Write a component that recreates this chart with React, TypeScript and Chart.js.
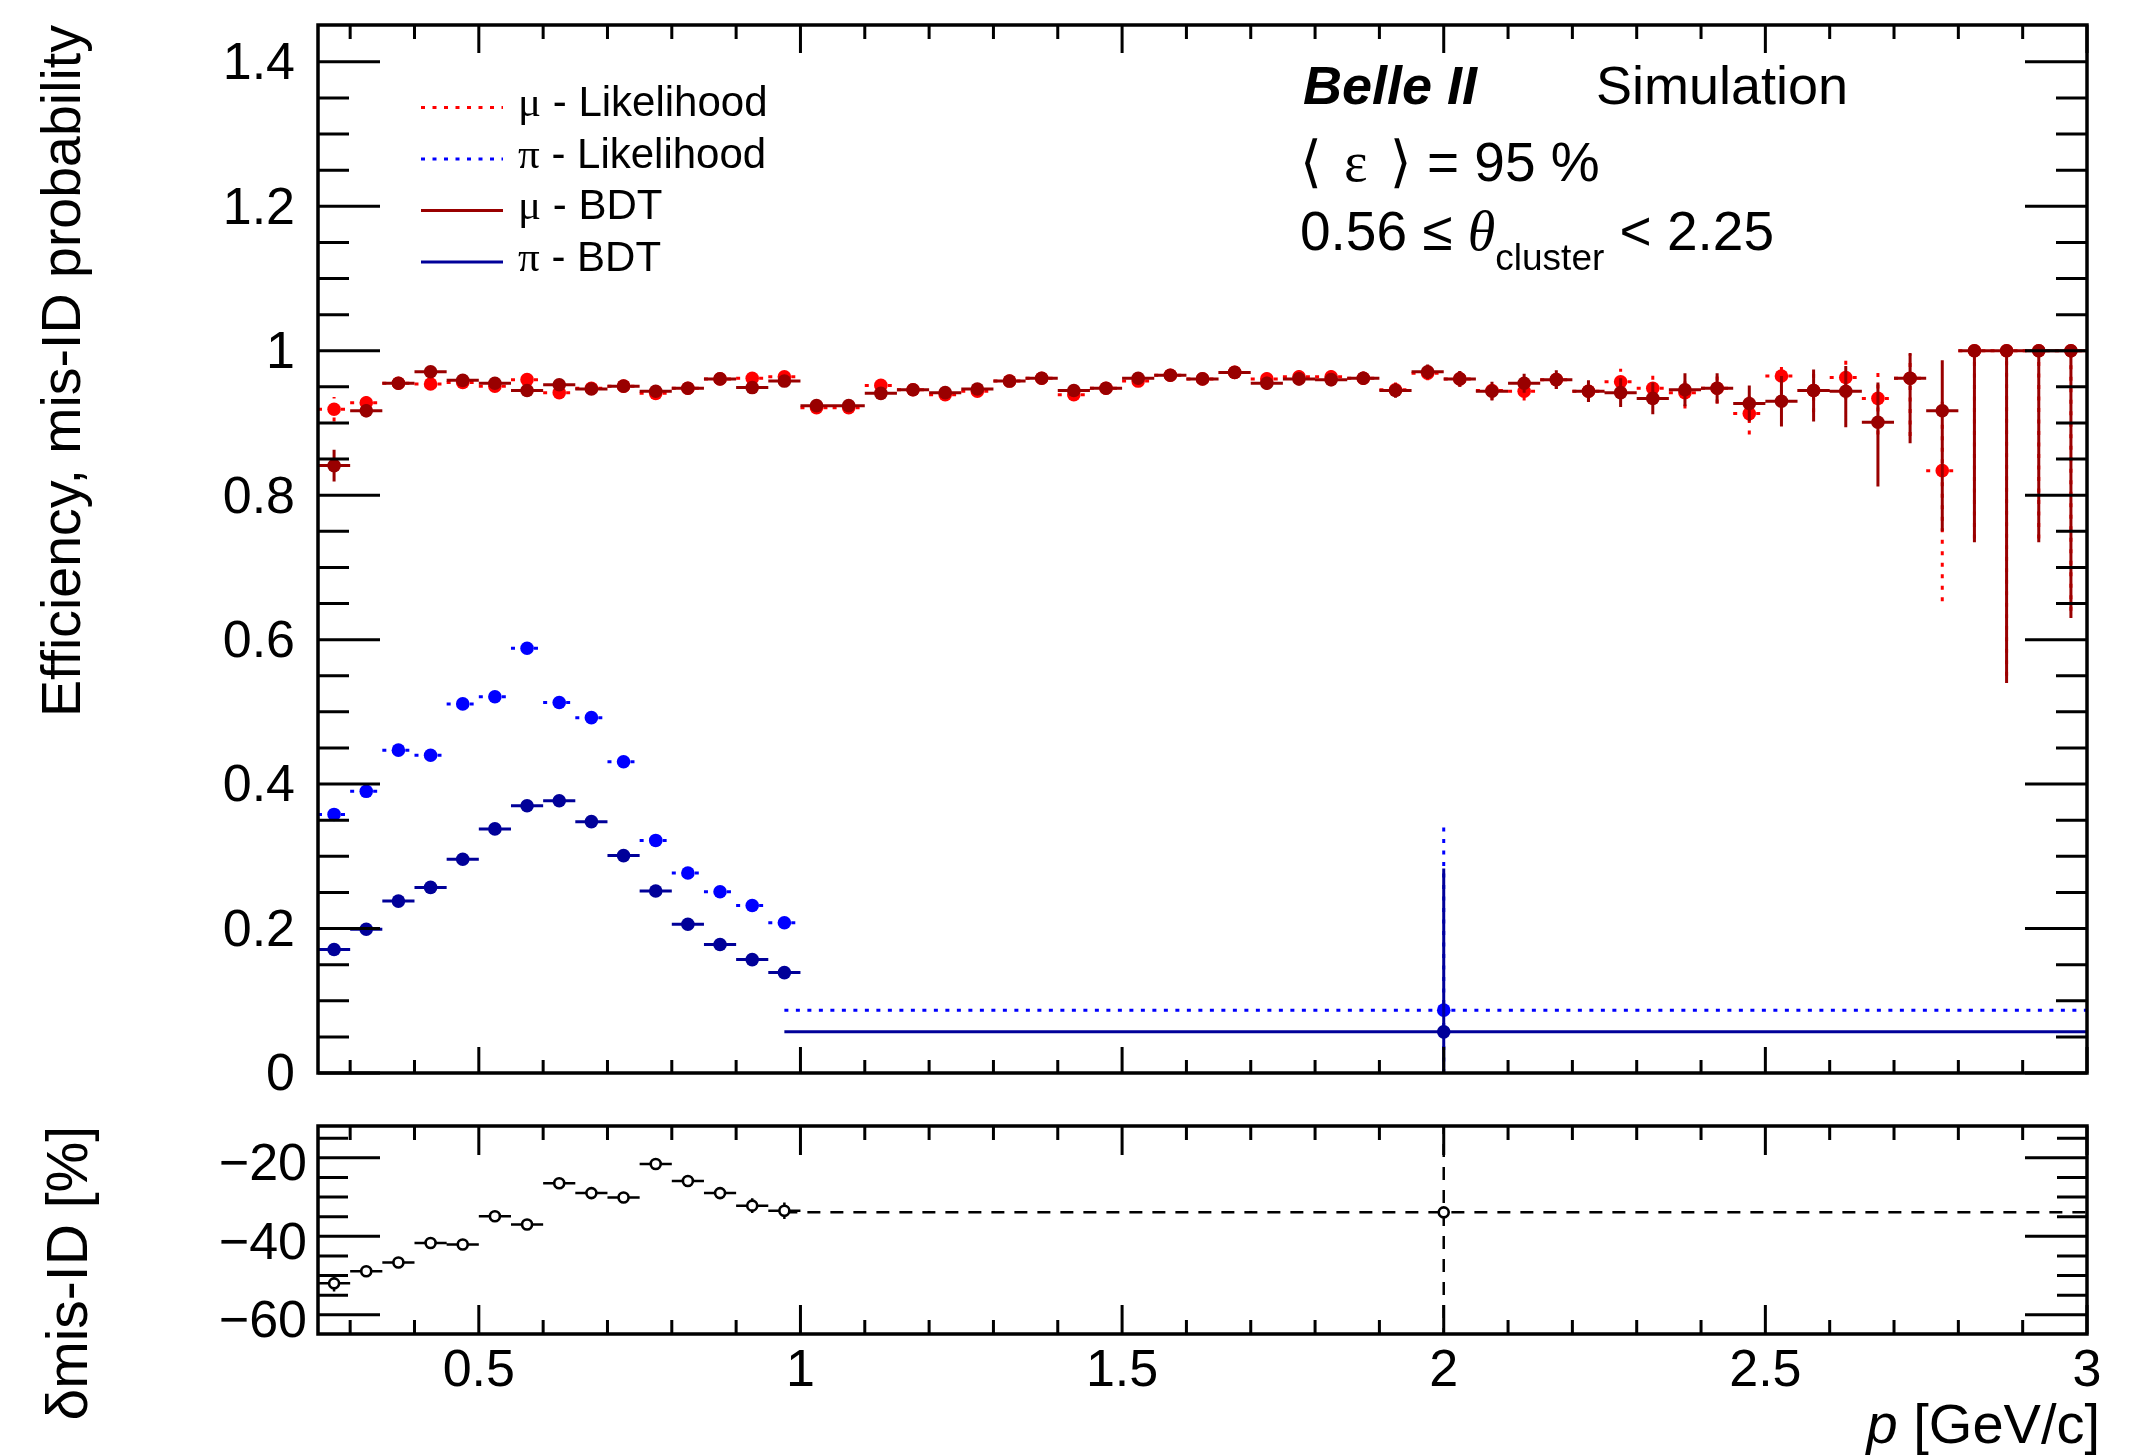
import { useEffect, useRef } from "react";
import { Chart, registerables } from "chart.js";

Chart.register(...registerables);

const SANS = '"Liberation Sans", Arial, Helvetica, sans-serif';
const SERIF = '"Liberation Serif", "DejaVu Serif", serif';
const MATH = '"DejaVu Sans", "Liberation Sans", sans-serif';

const LH_RED = "#ff0000";
const BDT_RED = "#990000";
const LH_BLUE = "#0000ff";
const BDT_BLUE = "#000099";
const DOTTED = [4, 7.5];
const DASHED = [13, 10];

// ---------------- data ----------------
const muP = [0.275, 0.325, 0.375, 0.425, 0.475, 0.525, 0.575, 0.625, 0.675, 0.725, 0.775, 0.825, 0.875, 0.925, 0.975,
  1.025, 1.075, 1.125, 1.175, 1.225, 1.275, 1.325, 1.375, 1.425, 1.475, 1.525, 1.575, 1.625, 1.675, 1.725, 1.775, 1.825,
  1.875, 1.925, 1.975, 2.025, 2.075, 2.125, 2.175, 2.225, 2.275, 2.325, 2.375, 2.425, 2.475, 2.525, 2.575, 2.625, 2.675,
  2.725, 2.775, 2.825, 2.875, 2.925, 2.975];
const muHalfBin = 0.025;

const muLikelihood = [0.919, 0.928, 0.955, 0.954, 0.956, 0.951, 0.960, 0.942, 0.948, 0.951, 0.941, 0.948, 0.961, 0.962, 0.964,
  0.921, 0.921, 0.952, 0.946, 0.939, 0.944, 0.958, 0.962, 0.939, 0.948, 0.958, 0.966, 0.961, 0.970, 0.961, 0.964, 0.964,
  0.962, 0.946, 0.969, 0.961, 0.945, 0.944, 0.960, 0.944, 0.957, 0.948, 0.942, 0.948, 0.913, 0.965, 0.945, 0.963, 0.934,
  0.962, 0.834, 1.0, 1.0, 1.0, 1.0];
const muLikelihoodErrUp = [0.017, 0.009, 0.006, 0.006, 0.006, 0.006, 0.006, 0.006, 0.006, 0.006, 0.006, 0.006, 0.006, 0.006, 0.006,
  0.007, 0.007, 0.007, 0.007, 0.007, 0.007, 0.007, 0.007, 0.008, 0.008, 0.008, 0.008, 0.008, 0.008, 0.009, 0.009, 0.009,
  0.009, 0.010, 0.010, 0.011, 0.013, 0.013, 0.013, 0.015, 0.018, 0.020, 0.022, 0.021, 0.029, 0.019, 0.028, 0.026, 0.040,
  0.033, 0.100, 0, 0, 0, 0];
const muLikelihoodErrDown = [0.017, 0.009, 0.006, 0.006, 0.006, 0.006, 0.006, 0.006, 0.006, 0.006, 0.006, 0.006, 0.006, 0.006, 0.006,
  0.007, 0.007, 0.007, 0.007, 0.007, 0.007, 0.007, 0.007, 0.008, 0.008, 0.008, 0.008, 0.008, 0.008, 0.009, 0.009, 0.009,
  0.009, 0.010, 0.010, 0.011, 0.013, 0.013, 0.013, 0.015, 0.018, 0.020, 0.022, 0.021, 0.029, 0.025, 0.030, 0.030, 0.050,
  0.080, 0.181, 0.26, 0.45, 0.26, 0.36];

const muBDT = [0.841, 0.917, 0.955, 0.971, 0.959, 0.955, 0.945, 0.953, 0.947, 0.951, 0.944, 0.948, 0.961, 0.949, 0.958,
  0.924, 0.924, 0.941, 0.946, 0.942, 0.947, 0.958, 0.962, 0.945, 0.948, 0.962, 0.966, 0.961, 0.970, 0.955, 0.961, 0.960,
  0.962, 0.945, 0.971, 0.961, 0.944, 0.955, 0.960, 0.944, 0.942, 0.934, 0.946, 0.948, 0.927, 0.930, 0.945, 0.944, 0.901,
  0.962, 0.917, 1.0, 1.0, 1.0, 1.0];
const muBDTErrUp = [0.022, 0.009, 0.006, 0.006, 0.006, 0.006, 0.006, 0.006, 0.006, 0.006, 0.006, 0.006, 0.006, 0.006, 0.006,
  0.007, 0.007, 0.007, 0.007, 0.007, 0.007, 0.007, 0.007, 0.008, 0.008, 0.008, 0.008, 0.008, 0.008, 0.009, 0.009, 0.009,
  0.009, 0.010, 0.010, 0.011, 0.013, 0.013, 0.013, 0.015, 0.020, 0.022, 0.023, 0.021, 0.025, 0.035, 0.029, 0.035, 0.055,
  0.035, 0.070, 0, 0, 0, 0];
const muBDTErrDown = [0.022, 0.009, 0.006, 0.006, 0.006, 0.006, 0.006, 0.006, 0.006, 0.006, 0.006, 0.006, 0.006, 0.006, 0.006,
  0.007, 0.007, 0.007, 0.007, 0.007, 0.007, 0.007, 0.007, 0.008, 0.008, 0.008, 0.008, 0.008, 0.008, 0.009, 0.009, 0.009,
  0.009, 0.010, 0.010, 0.011, 0.013, 0.013, 0.013, 0.015, 0.020, 0.022, 0.023, 0.021, 0.025, 0.035, 0.043, 0.050, 0.089,
  0.090, 0.167, 0.265, 0.46, 0.265, 0.37];

const piP = [0.275, 0.325, 0.375, 0.425, 0.475, 0.525, 0.575, 0.625, 0.675, 0.725, 0.775, 0.825, 0.875, 0.925, 0.975, 2.0];
const piBinLow = [0.25, 0.3, 0.35, 0.4, 0.45, 0.5, 0.55, 0.6, 0.65, 0.7, 0.75, 0.8, 0.85, 0.9, 0.95, 0.975];
const piBinHigh = [0.3, 0.35, 0.4, 0.45, 0.5, 0.55, 0.6, 0.65, 0.7, 0.75, 0.8, 0.85, 0.9, 0.95, 1.0, 3.025];

const piLikelihood = [0.358, 0.390, 0.447, 0.440, 0.511, 0.521, 0.588, 0.513, 0.492, 0.431, 0.322, 0.277, 0.251, 0.232, 0.208, 0.087];
const piLikelihoodErrUp = [0.006, 0.006, 0.006, 0.006, 0.007, 0.007, 0.007, 0.007, 0.007, 0.007, 0.007, 0.007, 0.007, 0.007, 0.007, 0.256];
const piLikelihoodErrDown = [0.006, 0.006, 0.006, 0.006, 0.007, 0.007, 0.007, 0.007, 0.007, 0.007, 0.007, 0.007, 0.007, 0.007, 0.007, 0.087];

const piBDT = [0.171, 0.199, 0.238, 0.257, 0.296, 0.338, 0.370, 0.377, 0.348, 0.301, 0.252, 0.206, 0.178, 0.157, 0.139, 0.057];
const piBDTErrUp = [0.005, 0.005, 0.006, 0.006, 0.006, 0.007, 0.007, 0.007, 0.007, 0.007, 0.006, 0.006, 0.006, 0.006, 0.006, 0.226];
const piBDTErrDown = [0.005, 0.005, 0.006, 0.006, 0.006, 0.007, 0.007, 0.007, 0.007, 0.007, 0.006, 0.006, 0.006, 0.006, 0.006, 0.057];

const deltaMisID = [-52.0, -48.9, -46.7, -41.7, -42.1, -34.9, -37.0, -26.5, -29.0, -30.1, -21.6, -25.9, -29.0, -32.2, -33.5, -33.9];
const deltaMisIDErr = [2.1, 1.2, 1.0, 0.9, 0.9, 0.9, 0.8, 0.8, 0.9, 1.0, 1.1, 1.2, 1.4, 1.9, 2.1, 150];

// axis ticks / labels
const xRange = [0.25, 3];
const yTopRange = [0, 1.451];
const yBottomRange = [-64.9, -11.9];
const xTickValues = [0.5, 1, 1.5, 2, 2.5, 3];
const xTickLabels = ["0.5", "1", "1.5", "2", "2.5", "3"];
const yTopTickValues = [0, 0.2, 0.4, 0.6, 0.8, 1, 1.2, 1.4];
const yTopTickLabels = ["0", "0.2", "0.4", "0.6", "0.8", "1", "1.2", "1.4"];
const yBottomTickValues = [-60, -40, -20];
const yBottomTickLabels = ["\u221260", "\u221240", "\u221220"];

const legendSymbols = ["\u03bc", "\u03c0", "\u03bc", "\u03c0"];
const legendTexts = [" - Likelihood", " - Likelihood", " - BDT", " - BDT"];
const legendColors = [LH_RED, LH_BLUE, BDT_RED, BDT_BLUE];
const legendDashed = [true, true, false, false];

// ---------------- helpers ----------------
type Pt = { x: number; y: number | null };

function hBars(lows: number[], highs: number[], vals: number[], keep: (i: number) => boolean = () => true): Pt[] {
  const out: Pt[] = [];
  vals.forEach((v, i) => {
    if (!keep(i)) return;
    out.push({ x: lows[i], y: v }, { x: highs[i], y: v }, { x: highs[i], y: null });
  });
  return out;
}
function vBars(xs: number[], vals: number[], up: number[], dn: number[], keep: (i: number) => boolean = () => true): Pt[] {
  const out: Pt[] = [];
  vals.forEach((v, i) => {
    if (!keep(i)) return;
    out.push({ x: xs[i], y: v - dn[i] }, { x: xs[i], y: v + up[i] }, { x: xs[i], y: null });
  });
  return out;
}
function pts(xs: number[], vals: number[]): Pt[] {
  return vals.map((v, i) => ({ x: xs[i], y: v }));
}
function lineDs(data: Pt[], color: string, dash: number[], width: number, order: number) {
  return {
    data, showLine: true, borderColor: color, borderWidth: width, borderDash: dash, borderCapStyle: "butt",
    pointRadius: 0, pointHoverRadius: 0, pointHitRadius: 0, spanGaps: false, fill: false, tension: 0, order,
  };
}
function markerDs(data: Pt[], fill: string, stroke: string, radius: number, bw: number, order: number) {
  return {
    data, showLine: false, pointRadius: radius, pointHoverRadius: radius, pointBackgroundColor: fill,
    pointBorderColor: stroke, pointBorderWidth: bw, pointStyle: "circle", order,
  };
}

const muLow = muP.map((p) => p - muHalfBin);
const muHigh = muP.map((p) => p + muHalfBin);

function minorTicks(from: number, to: number, step: number, majors: number[]) {
  const out: number[] = [];
  const n = Math.round((to - from) / step);
  for (let k = 0; k <= n; k++) {
    const v = +(from + k * step).toFixed(4);
    if (!majors.some((m) => Math.abs(m - v) < 1e-6)) out.push(v);
  }
  return out;
}

const framePlugin = {
  id: "rootFrame",
  afterDatasetsDraw(chart: any, _args: any, o: any) {
    const { ctx, chartArea: a, scales } = chart;
    const xs = scales.x;
    const ys = scales.y;
    ctx.save();
    ctx.strokeStyle = "#000";
    ctx.lineWidth = 3;
    ctx.lineCap = "butt";
    ctx.beginPath();
    const xt = (vals: number[], lb: number, lt: number) => {
      vals.forEach((v) => {
        const px = xs.getPixelForValue(v);
        ctx.moveTo(px, a.bottom); ctx.lineTo(px, a.bottom - lb);
        ctx.moveTo(px, a.top); ctx.lineTo(px, a.top + lt);
      });
    };
    const yt = (vals: number[], l: number) => {
      vals.forEach((v) => {
        const py = ys.getPixelForValue(v);
        ctx.moveTo(a.left, py); ctx.lineTo(a.left + l, py);
        ctx.moveTo(a.right, py); ctx.lineTo(a.right - l, py);
      });
    };
    xt(o.xMajor, o.xMajorBottom, o.xMajorTop);
    xt(o.xMinor, o.xMinorBottom, o.xMinorTop);
    yt(o.yMajor, o.yMajorLen);
    yt(o.yMinor, o.yMinorLen);
    ctx.stroke();
    ctx.lineWidth = 3.5;
    ctx.strokeRect(a.left, a.top, a.right - a.left, a.bottom - a.top);
    ctx.restore();
  },
};

function drawRuns(ctx: CanvasRenderingContext2D, runs: { t: string; f: string; dy?: number }[], x: number, y: number) {
  let cx = x;
  runs.forEach((r) => {
    ctx.font = r.f;
    ctx.fillText(r.t, cx, y + (r.dy || 0));
    cx += ctx.measureText(r.t).width;
  });
  return cx;
}

const topTextPlugin = {
  id: "topText",
  afterDraw(chart: any) {
    const ctx: CanvasRenderingContext2D = chart.ctx;
    const a = chart.chartArea;
    ctx.save();
    ctx.fillStyle = "#000";
    ctx.textAlign = "left";
    ctx.textBaseline = "alphabetic";
    // legend
    const lx0 = a.left + 103;
    const lx1 = a.left + 185;
    const tx = a.left + 200;
    legendTexts.forEach((t, i) => {
      const base = a.top + 91 + i * 51.5;
      ctx.save();
      ctx.strokeStyle = legendColors[i];
      ctx.lineWidth = 3;
      ctx.setLineDash(legendDashed[i] ? DOTTED : []);
      ctx.beginPath();
      ctx.moveTo(lx0, base - 8.5);
      ctx.lineTo(lx1, base - 8.5);
      ctx.stroke();
      ctx.restore();
      drawRuns(ctx, [{ t: legendSymbols[i], f: `43px ${SERIF}` }, { t, f: `42px ${SANS}` }], tx, base);
    });
    // labels
    ctx.font = `italic bold 54px ${SANS}`;
    ctx.fillText("Belle II", 1303, 104);
    ctx.font = `54px ${SANS}`;
    ctx.fillText("Simulation", 1596, 104);
    drawRuns(ctx, [
      { t: "\u27e8", f: `56px ${MATH}` },
      { t: "  ", f: `40px ${SANS}` },
      { t: "\u03b5", f: `56px ${SERIF}` },
      { t: "  ", f: `40px ${SANS}` },
      { t: "\u27e9", f: `56px ${MATH}` },
      { t: " = 95 %", f: `55px ${SANS}` },
    ], 1300, 181);
    drawRuns(ctx, [
      { t: "0.56 \u2264 ", f: `55px ${SANS}` },
      { t: "\u03b8", f: `italic 56px ${SERIF}` },
      { t: "cluster", f: `37px ${SANS}`, dy: 20 },
      { t: " < 2.25", f: `55px ${SANS}` },
    ], 1300, 250);
    ctx.restore();
  },
};

const bottomTextPlugin = {
  id: "bottomText",
  afterDraw(chart: any) {
    const ctx: CanvasRenderingContext2D = chart.ctx;
    ctx.save();
    ctx.fillStyle = "#000";
    ctx.textBaseline = "alphabetic";
    ctx.textAlign = "left";
    ctx.font = `56px ${SANS}`;
    const wRest = ctx.measureText(" [GeV/c]").width;
    ctx.font = `italic 56px ${SANS}`;
    const wP = ctx.measureText("p").width;
    const right = chart.chartArea.right + 13;
    drawRuns(ctx, [{ t: "p", f: `italic 56px ${SANS}` }, { t: " [GeV/c]", f: `56px ${SANS}` }], right - wRest - wP, 353);
    ctx.restore();
  },
};

const yTickFont = { family: SANS, size: 52, lineHeight: 0.3 };
const xTickFont = { family: SANS, size: 52, lineHeight: 0.8 };

const TOP_CANVAS_H = 1136;

function topConfig(): any {
  const datasets = [
    lineDs(hBars(muLow, muHigh, muLikelihood), LH_RED, DOTTED, 3, 12),
    lineDs(vBars(muP, muLikelihood, muLikelihoodErrUp, muLikelihoodErrDown), LH_RED, DOTTED, 3, 11),
    markerDs(pts(muP, muLikelihood), LH_RED, LH_RED, 6.8, 0, 10),
    lineDs(hBars(piBinLow, piBinHigh, piLikelihood), LH_BLUE, DOTTED, 3, 12),
    lineDs(vBars(piP, piLikelihood, piLikelihoodErrUp, piLikelihoodErrDown), LH_BLUE, DOTTED, 3, 11),
    markerDs(pts(piP, piLikelihood), LH_BLUE, LH_BLUE, 6.8, 0, 10),
    lineDs(hBars(muLow, muHigh, muBDT), BDT_RED, [], 3, 8),
    lineDs(vBars(muP, muBDT, muBDTErrUp, muBDTErrDown), BDT_RED, [], 3, 7),
    markerDs(pts(muP, muBDT), BDT_RED, BDT_RED, 6.8, 0, 6),
    lineDs(hBars(piBinLow, piBinHigh, piBDT), BDT_BLUE, [], 3, 8),
    lineDs(vBars(piP, piBDT, piBDTErrUp, piBDTErrDown), BDT_BLUE, [], 3, 7),
    markerDs(pts(piP, piBDT), BDT_BLUE, BDT_BLUE, 6.8, 0, 6),
  ];
  return {
    type: "scatter",
    data: { datasets },
    options: {
      responsive: false, animation: false, devicePixelRatio: 1, events: [],
      layout: { padding: { left: 0, right: 64, top: 25, bottom: 0 } },
      scales: {
        x: {
          type: "linear", min: xRange[0], max: xRange[1], bounds: "data", position: "bottom",
          grid: { display: false }, border: { display: false }, ticks: { display: false },
          afterFit: (s: any) => { s.height = TOP_CANVAS_H - 1073; },
        },
        y: {
          type: "linear", min: yTopRange[0], max: yTopRange[1], bounds: "data", position: "left",
          grid: { display: false }, border: { display: false },
          ticks: {
            font: yTickFont, color: "#000", padding: 15, autoSkip: false, labelOffset: 3,
            callback: (_v: any, i: number) => yTopTickLabels[i],
          },
          afterBuildTicks: (s: any) => { s.ticks = yTopTickValues.map((value) => ({ value })); },
          afterFit: (s: any) => { s.width = 318; },
          title: {
            display: true, text: "Efficiency, mis-ID probability", align: "end", color: "#000",
            font: { family: SANS, size: 55.5, lineHeight: 1.2 }, padding: { top: 31, bottom: 0 },
          },
        },
      },
      plugins: {
        legend: { display: false }, tooltip: { enabled: false },
        rootFrame: {
          xMajor: xTickValues, xMinor: minorTicks(0.3, 2.9, 0.1, xTickValues),
          xMajorBottom: 26, xMinorBottom: 13, xMajorTop: 28, xMinorTop: 14,
          yMajor: yTopTickValues, yMinor: minorTicks(0.05, 1.4, 0.05, yTopTickValues),
          yMajorLen: 62, yMinorLen: 31,
        },
      },
    },
    plugins: [framePlugin, topTextPlugin],
  };
}

function bottomConfig(): any {
  const fine = (i: number) => piBinHigh[i] - piBinLow[i] < 0.1;
  const wide = (i: number) => !fine(i);
  const datasets = [
    lineDs(vBars(piP, deltaMisID, deltaMisIDErr, deltaMisIDErr, fine), "#000", [], 2.5, 5),
    lineDs(vBars(piP, deltaMisID, deltaMisIDErr, deltaMisIDErr, wide), "#000", DASHED, 2.5, 5),
    lineDs(hBars(piBinLow, piBinHigh, deltaMisID, fine), "#000", [], 2.5, 4),
    lineDs(hBars(piBinLow, piBinHigh, deltaMisID, wide), "#000", DASHED, 2.5, 4),
    markerDs(pts(piP, deltaMisID), "#fff", "#000", 5, 2.6, 1),
  ];
  return {
    type: "scatter",
    data: { datasets },
    options: {
      responsive: false, animation: false, devicePixelRatio: 1, events: [],
      layout: { padding: { left: 0, right: 64, top: 36, bottom: 0 } },
      scales: {
        x: {
          type: "linear", min: xRange[0], max: xRange[1], bounds: "data", position: "bottom",
          grid: { display: false }, border: { display: false },
          ticks: {
            font: xTickFont, color: "#000", padding: 9, autoSkip: false, maxRotation: 0, minRotation: 0,
            callback: (_v: any, i: number) => xTickLabels[i],
          },
          afterBuildTicks: (s: any) => { s.ticks = xTickValues.map((value) => ({ value })); },
          afterFit: (s: any) => { s.height = 122; },
        },
        y: {
          type: "linear", min: yBottomRange[0], max: yBottomRange[1], bounds: "data", position: "left",
          grid: { display: false }, border: { display: false },
          ticks: {
            font: yTickFont, color: "#000", padding: 3, autoSkip: false, labelOffset: 8,
            callback: (_v: any, i: number) => yBottomTickLabels[i],
          },
          afterBuildTicks: (s: any) => { s.ticks = yBottomTickValues.map((value) => ({ value })); },
          afterFit: (s: any) => { s.width = 318; },
          title: {
            display: true, text: "\u03b4mis-ID [%]", align: "end", color: "#000",
            font: { family: SANS, size: 57, lineHeight: 1.2 }, padding: { top: 37.5, bottom: 0 },
          },
        },
      },
      plugins: {
        legend: { display: false }, tooltip: { enabled: false },
        rootFrame: {
          xMajor: xTickValues, xMinor: minorTicks(0.3, 2.9, 0.1, xTickValues),
          xMajorBottom: 29, xMinorBottom: 14, xMajorTop: 29, xMinorTop: 14,
          yMajor: yBottomTickValues, yMinor: minorTicks(-60, -15, 5, yBottomTickValues),
          yMajorLen: 62, yMinorLen: 30,
        },
      },
    },
    plugins: [framePlugin, bottomTextPlugin],
  };
}

export default function App() {
  const topRef = useRef<HTMLCanvasElement>(null);
  const botRef = useRef<HTMLCanvasElement>(null);
  useEffect(() => {
    const top = new Chart(topRef.current as HTMLCanvasElement, topConfig());
    const bot = new Chart(botRef.current as HTMLCanvasElement, bottomConfig());
    return () => {
      top.destroy();
      bot.destroy();
    };
  }, []);
  return (
    <div style={{ position: "fixed", left: 0, top: 0, width: 2151, height: 1456, background: "#fff", overflow: "hidden" }}>
      <canvas ref={topRef} width={2151} height={TOP_CANVAS_H}
        style={{ position: "absolute", left: 0, top: 0, width: 2151, height: TOP_CANVAS_H }} />
      <canvas ref={botRef} width={2151} height={366}
        style={{ position: "absolute", left: 0, top: 1090, width: 2151, height: 366 }} />
    </div>
  );
}
